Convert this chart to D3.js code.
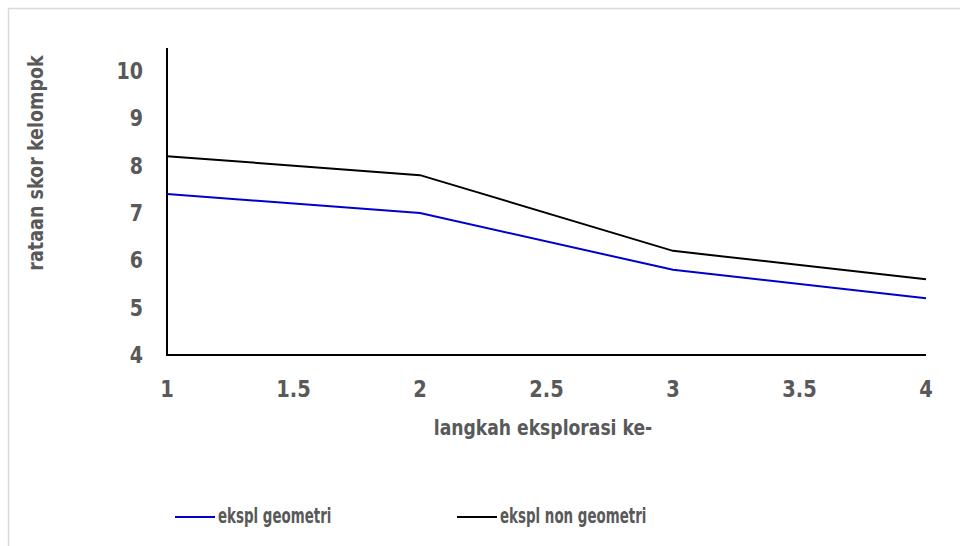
<!DOCTYPE html>
<html>
<head>
<meta charset="utf-8">
<script src="https://cdn.jsdelivr.net/npm/d3@7"></script>
<style>
  body { margin: 0; background: #fff; }
  text { font-family: "Liberation Sans Narrow", "DejaVu Sans Condensed", sans-serif; font-weight: bold; fill: #595959; }
</style>
</head>
<body>
<svg id="chart" width="960" height="546"></svg>
<script>
// chart data
const steps = [1, 2, 3, 4];
const geometri = [7.4, 7.0, 5.8, 5.2];
const nonGeometri = [8.2, 7.8, 6.2, 5.6];
const xTicks = [1, 1.5, 2, 2.5, 3, 3.5, 4];
const yTicks = [4, 5, 6, 7, 8, 9, 10];
const seriesNames = ['ekspl geometri', 'ekspl non geometri'];
const seriesColors = ['#0000cc', '#000000'];

const svg = d3.select('#chart');

// outer frame (only top and left edges visible)
svg.append('path')
  .attr('d', 'M8.5,546 L8.5,8.5 L960,8.5')
  .attr('fill', 'none')
  .attr('stroke', '#d9d9d9')
  .attr('stroke-width', 1.5);

const plot = { left: 167, right: 926, top: 71, bottom: 355 };

const x = d3.scaleLinear().domain([1, 4]).range([plot.left, plot.right]);
const y = d3.scaleLinear().domain([4, 10]).range([plot.bottom, plot.top]);

// narrow bold text: squeeze horizontally to mimic the condensed font
function label(parent, px, py, str, size, sx, anchor, rot = 0) {
  return parent.append('text')
    .attr('transform', `translate(${px},${py}) rotate(${rot}) scale(${sx},1)`)
    .attr('text-anchor', anchor)
    .style('font-size', size + 'px')
    .text(str);
}

// axes lines
svg.append('line')
  .attr('x1', x(1)).attr('x2', x(1))
  .attr('y1', 48).attr('y2', y(4))
  .attr('stroke', '#000').attr('stroke-width', 2);
svg.append('line')
  .attr('x1', x(1) - 1).attr('x2', x(4))
  .attr('y1', y(4)).attr('y2', y(4))
  .attr('stroke', '#000').attr('stroke-width', 2);

// tick labels
yTicks.forEach(d => {
  label(svg, 143, y(d) + 8, d, 23, 0.92, 'end');
});
xTicks.forEach(d => {
  label(svg, x(d), 397, d, 23, 0.94, 'middle');
});

// axis titles
label(svg, 543, 435, 'langkah eksplorasi ke-', 21, 0.91, 'middle');
label(svg, 43, 163, 'rataan skor kelompok', 21, 0.93, 'middle', -90);

// lines
const line = d3.line()
  .x((d, i) => x(steps[i]))
  .y(d => y(d));

[geometri, nonGeometri].forEach((values, i) => {
  svg.append('path')
    .datum(values)
    .attr('fill', 'none')
    .attr('stroke', seriesColors[i])
    .attr('stroke-width', 2)
    .attr('d', line);
});

// legend
const legendX = [175, 457];
seriesNames.forEach((name, i) => {
  const g = svg.append('g').attr('transform', `translate(${legendX[i]},517)`);
  g.append('line')
    .attr('x1', 0).attr('x2', 40)
    .attr('y1', 0).attr('y2', 0)
    .attr('stroke', seriesColors[i])
    .attr('stroke-width', 2);
  label(g, 43, 6, name, 21, 0.71, 'start');
});
</script>
</body>
</html>
